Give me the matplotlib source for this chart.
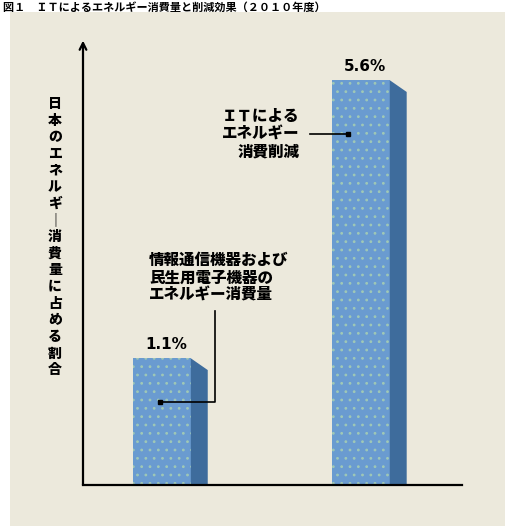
import numpy as np
import matplotlib
matplotlib.use("Agg")
import matplotlib.pyplot as plt
from matplotlib.patches import Polygon, Rectangle

plt.rcParams["font.family"] = ["Noto Sans CJK JP", "DejaVu Sans"]
plt.rcParams["hatch.linewidth"] = 0.8

# data (conceptual chart, values as printed on the bars)
categories = ["情報通信機器および\n民生用電子機器の\nエネルギー消費量", "ＩＴによる\nエネルギー\n消費削減"]
values = [1.1, 5.6]
value_labels = ["1.1%", "5.6%"]
ylabel = "日本のエネルギー消費量に占める割合"
title = "図１　ＩＴによるエネルギー消費量と削減効果（２０１０年度）"

BASE = -0.95          # bars rise from the drawn baseline, not from zero
FRONT = "#6a9bd0"
SIDE = "#3e6c9c"
DOTS = "#9fc8b6"
BG = "#ece9dc"

fig = plt.figure(figsize=(5.06, 5.26), dpi=100)
fig.patch.set_facecolor("white")
fig.patches.append(Rectangle((10 / 506, 0), 1, 1 - 12 / 526, transform=fig.transFigure,
                             facecolor=BG, edgecolor="none", zorder=-10))
fig.text(0.005, 0.999, title, ha="left", va="top", fontsize=8, fontweight="bold")

ax = fig.add_axes([83 / 506, 41 / 526, 379 / 506, 440 / 526])
ax.set_facecolor("none")
ax.set_xlim(-0.397, 1.508)
ax.set_ylim(BASE, 6.17)

w = 0.29
depth = 0.085
drop = 0.19
x = np.arange(len(values))
heights = [v - BASE for v in values]
bars = ax.bar(x, heights, width=w, bottom=BASE, color=FRONT, edgecolor="none", zorder=2)
# dotted texture on the front faces
ax.bar(x, heights, width=w, bottom=BASE, facecolor="none", edgecolor=DOTS,
       linewidth=0, hatch="..", zorder=2.1)
for b, v, lab in zip(bars, values, value_labels):
    x1 = b.get_x() + b.get_width()
    side = Polygon([(x1, BASE), (x1, v), (x1 + depth, v - drop), (x1 + depth, BASE)],
                   closed=True, facecolor=SIDE, edgecolor="none", zorder=2)
    ax.add_patch(side)
    ax.text(b.get_x() + (w + depth) / 2 - 0.02, v + 0.1, lab, ha="center", va="bottom",
            fontsize=11, fontweight="bold", family="DejaVu Sans")

for s in ["top", "right", "left"]:
    ax.spines[s].set_visible(False)
ax.spines["bottom"].set_linewidth(1.6)
ax.set_xticks([])
ax.set_yticks([])
ax.annotate("", xy=(0, 1.01), xytext=(0, 0), xycoords="axes fraction",
            arrowprops=dict(arrowstyle="->", lw=1.6, color="black",
                            mutation_scale=12, shrinkA=0, shrinkB=0))

# vertical axis title, written top to bottom
vert = "\n".join("｜" if c == "ー" else c for c in ylabel)
fig.text(55 / 506, 1 - 237 / 526, vert, ha="center", va="center", fontsize=10,
         fontweight="heavy", linespacing=1.24)

# leader for the right bar
ax.text(0.692, 4.725, categories[1], ha="right", va="center",
        fontsize=11.2, fontweight="heavy", multialignment="right", linespacing=1.22)
ax.plot([0.744, 0.935], [4.73, 4.73], color="black", lw=1.2, zorder=3)
ax.plot([0.935], [4.73], marker="s", color="black", ms=3.5, zorder=3)

# leader for the left bar
ax.text(-0.065, 2.40, categories[0], ha="left", va="center", fontsize=11.2,
        fontweight="heavy", linespacing=1.2)
ax.plot([0.267, 0.267, -0.01], [1.86, 0.39, 0.39], color="black", lw=1.2, zorder=3)
ax.plot([-0.01], [0.39], marker="s", color="black", ms=3, zorder=3)

fig.savefig("out.png", dpi=100)
